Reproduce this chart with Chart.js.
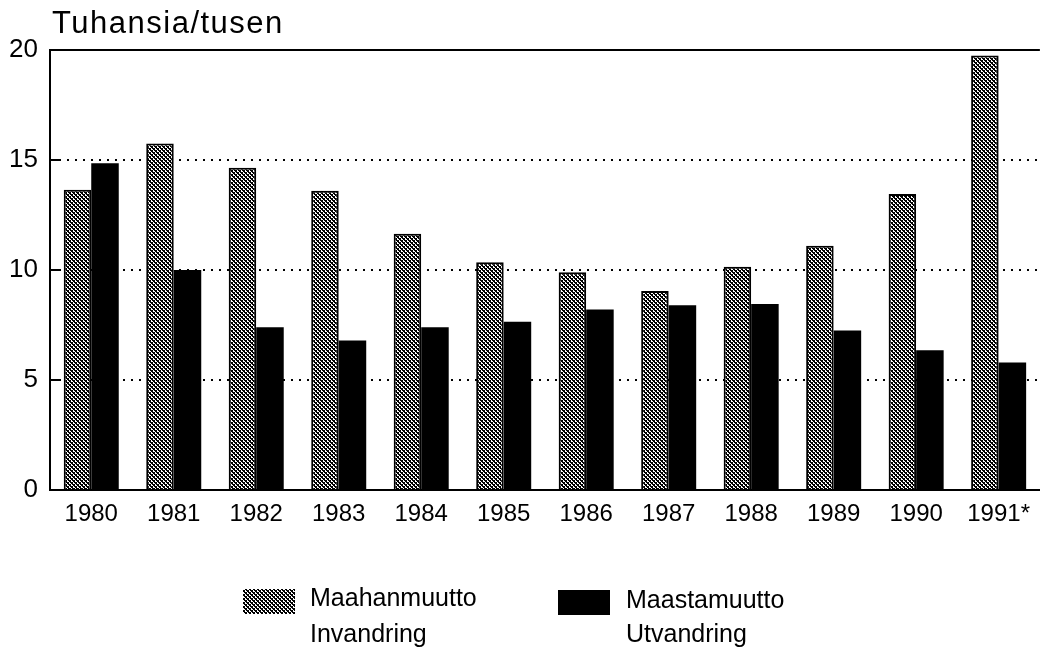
<!DOCTYPE html>
<html>
<head>
<meta charset="utf-8">
<script src="https://cdn.jsdelivr.net/npm/chart.js@4/dist/chart.umd.min.js"></script>
<style>
  html, body { margin: 0; padding: 0; background: #fff; }
  canvas { display: block; }
</style>
</head>
<body>
<canvas id="c" width="1040" height="662"></canvas>
<script>
// ---- data ----
const categories = ['1980','1981','1982','1983','1984','1985','1986','1987','1988','1989','1990','1991*'];
const immigration = [13.65, 15.75, 14.65, 13.6, 11.65, 10.35, 9.9, 9.05, 10.15, 11.1, 13.45, 19.75];
const emigration  = [14.85, 10.0, 7.4, 6.8, 7.4, 7.65, 8.2, 8.4, 8.45, 7.25, 6.35, 5.8];
const seriesFi = ['Maahanmuutto', 'Maastamuutto'];
const seriesSv = ['Invandring', 'Utvandring'];
const yTicks = [0, 5, 10, 15, 20];
const unitTitle = 'Tuhansia/tusen';

// ---- hatch pattern ----
function makePattern() {
  const t = document.createElement('canvas');
  t.width = 4; t.height = 4;
  const g = t.getContext('2d');
  g.fillStyle = '#fff'; g.fillRect(0, 0, 4, 4);
  g.fillStyle = '#000';
  for (let y = 0; y < 4; y++) for (let x = 0; x < 4; x++) {
    const d = (((x - y) % 4) + 4) % 4;
    if (d < 2 || (d === 2 && x % 2 === 0)) g.fillRect(x, y, 1, 1);
  }
  return g.createPattern(t, 'repeat');
}
const ctx = document.getElementById('c').getContext('2d');
const hatch = makePattern();
const FONT = '"Liberation Sans", Arial, Helvetica, sans-serif';

const framePlugin = {
  id: 'frame',
  afterDraw(chart) {
    const c = chart.ctx, a = chart.chartArea, ys = chart.scales.y;
    c.save();
    c.strokeStyle = '#000'; c.lineWidth = 2; c.setLineDash([]);
    c.beginPath(); c.moveTo(a.left - 1, a.top); c.lineTo(a.right, a.top); c.stroke();
    yTicks.forEach(v => {
      if (v === 0 || v === 20) return;
      const y = Math.round(ys.getPixelForValue(v));
      c.beginPath(); c.moveTo(a.left, y); c.lineTo(a.left + 11, y); c.stroke();
    });
    // title
    c.fillStyle = '#000';
    c.font = '31px ' + FONT;
    c.letterSpacing = '1.5px';
    c.textBaseline = 'alphabetic';
    c.textAlign = 'left';
    c.fillText(unitTitle, 52, 33);
    c.letterSpacing = '0px';
    // legend
    const items = [
      { box: [243, 589, 52, 25], tx: 310 },
      { box: [558, 590, 52, 25], tx: 626 }
    ];
    c.font = '25px ' + FONT;
    items.forEach((it, i) => {
      const ds = chart.data.datasets[i];
      c.fillStyle = ds.backgroundColor;
      c.fillRect(it.box[0], it.box[1], it.box[2], it.box[3]);
      c.fillStyle = '#000';
      c.textBaseline = 'middle';
      c.fillText(seriesFi[i], it.tx, 599 + (i ? 2 : 0));
      c.fillText(seriesSv[i], it.tx, 635);
    });
    c.restore();
  }
};

new Chart(ctx, {
  type: 'bar',
  data: {
    labels: categories,
    datasets: [
      { label: seriesFi[0], data: immigration, backgroundColor: hatch, borderColor: '#000', borderWidth: 2, borderSkipped: 'start' },
      { label: seriesFi[1], data: emigration, backgroundColor: '#000', borderColor: '#000', borderWidth: 0 }
    ]
  },
  options: {
    responsive: false,
    animation: false,
    devicePixelRatio: 1,
    layout: { padding: { top: 50, right: 0, left: 0, bottom: 0 } },
    datasets: { bar: { categoryPercentage: 0.667, barPercentage: 1.0 } },
    plugins: { legend: { display: false }, tooltip: { enabled: false } },
    scales: {
      x: {
        grid: { display: false, drawTicks: false },
        border: { display: true, color: '#000', width: 2 },
        ticks: { color: '#000', font: { family: FONT, size: 24 }, padding: 10, maxRotation: 0, autoSkip: false },
        afterFit(s) { s.height = 172; }
      },
      y: {
        min: 0, max: 20,
        afterBuildTicks(s) { s.ticks = yTicks.map(v => ({ value: v })); },
        grid: { color: '#000', lineWidth: 2, drawTicks: false },
        border: { display: true, color: '#000', width: 2, dash: [2, 6] },
        ticks: { color: '#000', font: { family: FONT, size: 26 }, padding: 12 },
        afterFit(s) { s.width = 50; }
      }
    }
  },
  plugins: [framePlugin]
});
</script>
</body>
</html>
